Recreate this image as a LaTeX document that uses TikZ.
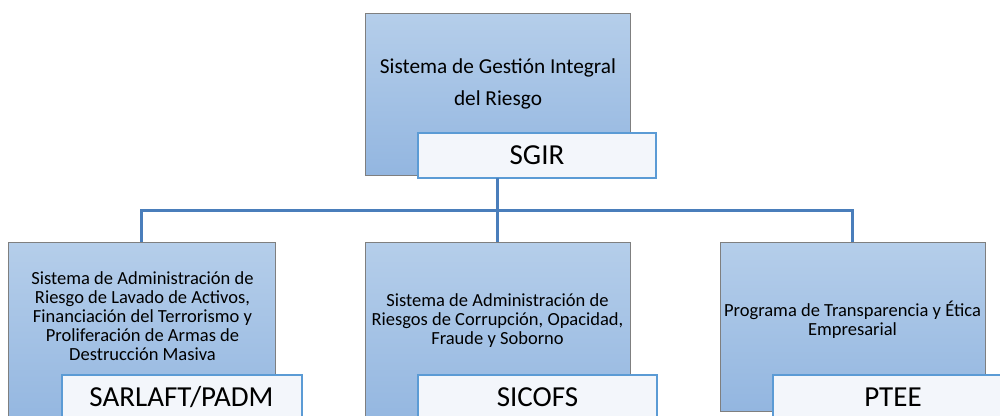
\documentclass[tikz,border=0pt]{standalone}
\usepackage{fontspec}
\setmainfont{Carlito}
\definecolor{boxtop}{HTML}{B5CEEA}
\definecolor{boxbot}{HTML}{93B6E0}
\definecolor{boxline}{HTML}{7F7F7F}
\definecolor{labfill}{HTML}{F3F6FB}
\definecolor{labline}{HTML}{5B9BD5}
\definecolor{conn}{HTML}{4A7EBB}
\begin{document}
\begin{tikzpicture}[x=1pt,y=-1pt,
  mainbox/.style={draw=boxline,line width=1pt,top color=boxtop,bottom color=boxbot,
    anchor=north west,inner sep=0pt,outer sep=0pt},
  labbox/.style={draw=labline,line width=1.2pt,fill=labfill,anchor=north west,
    inner sep=0pt,outer sep=0pt,font=\fontsize{29}{30}\selectfont},
  labtxt/.style={inner sep=0pt,font=\fontsize{29}{30}\selectfont},
  smalltxt/.style={align=center,inner sep=0pt,font=\fontsize{18.5}{19}\selectfont},
  bigtxt/.style={align=center,inner sep=0pt,font=\fontsize{21.3}{32}\selectfont},
  connector/.style={draw=conn,line width=3pt}]
\useasboundingbox (0,0) rectangle (1000,415);
\clip (0,0) rectangle (1000,415);
% boxes
\node[mainbox,minimum width=265pt,minimum height=162pt] (top) at (365,13) {};
\node[mainbox,minimum width=267pt,minimum height=185pt] (left) at (8,242) {};
\node[mainbox,minimum width=265pt,minimum height=185pt] (mid) at (365,242) {};
\node[mainbox,minimum width=265pt,minimum height=169pt] (right) at (720,242) {};
% texts
\node[bigtxt] (toptxt) at (498,84) {Sistema de Gestión Integral\\del Riesgo};
\node[smalltxt] (lefttxt) at (142.5,316) {Sistema de Administración de\\Riesgo de Lavado de Activos,\\Financiación del Terrorismo y\\Proliferación de Armas de\\Destrucción Masiva};
\node[smalltxt] (midtxt) at (497.5,321) {Sistema de Administración de\\Riesgos de Corrupción, Opacidad,\\Fraude y Soborno};
\node[smalltxt] (righttxt) at (852.5,320) {Programa de Transparencia y Ética\\Empresarial};
% labels
\node[labbox,minimum width=238pt,minimum height=45pt] (sgir) at (418,133) {};
\node[labtxt] (sgirtxt) at (537,155.5) {SGIR};
\node[labbox,minimum width=240pt,minimum height=50pt] (sarl) at (62,375) {};
\node[labtxt] (sarltxt) at (181.5,397) {SARLAFT/PADM};
\node[labbox,minimum width=239pt,minimum height=50pt] (sico) at (418,375) {};
\node[labtxt] (sicotxt) at (537.5,397) {SICOFS};
\node[labbox,minimum width=240pt,minimum height=50pt] (ptee) at (773,375) {};
\node[labtxt] (pteetxt) at (893,397) {PTEE};
% connectors
\coordinate (bus) at (497.5,210);
\draw[connector] (sgir.south -| top.south) -- (bus);
\draw[connector] (bus) -| (left.north);
\draw[connector] (bus) -| (right.north);
\draw[connector] (bus) -- (mid.north);
\end{tikzpicture}
\end{document}
